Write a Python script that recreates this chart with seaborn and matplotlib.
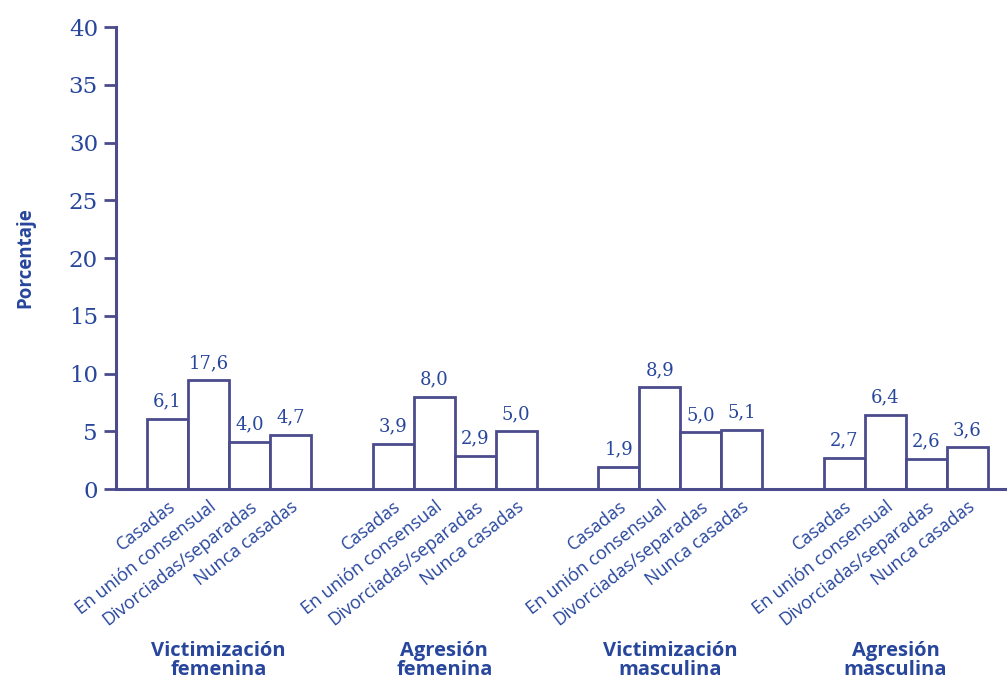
import matplotlib
matplotlib.use("Agg")
import matplotlib.pyplot as plt
import matplotlib.transforms as mtransforms
import numpy as np
import pandas as pd
import seaborn as sns

# ---- data ----
groups = ["Victimización\nfemenina", "Agresión\nfemenina",
          "Victimización\nmasculina", "Agresión\nmasculina"]
categories = ["Casadas", "En unión consensual", "Divorciadas/separadas", "Nunca casadas"]
# bar heights as drawn in the reference (the 17,6 bar is drawn at ~9.4)
vict_fem = [6.1, 9.4, 4.1, 4.7]
agr_fem = [3.9, 8.0, 2.9, 5.0]
vict_masc = [1.9, 8.8, 4.9, 5.1]
agr_masc = [2.7, 6.4, 2.6, 3.6]
value_labels = [["6,1", "17,6", "4,0", "4,7"],
                ["3,9", "8,0", "2,9", "5,0"],
                ["1,9", "8,9", "5,0", "5,1"],
                ["2,7", "6,4", "2,6", "3,6"]]
y_ticks = [0, 5, 10, 15, 20, 25, 30, 35, 40]
y_label = "Porcentaje"

series = [vict_fem, agr_fem, vict_masc, agr_masc]

TEXT = "#27469c"
LINE = "#4b4b8d"
GROUP_STEP = 5.5

rows = []
for g, vals in enumerate(series):
    for i, v in enumerate(vals):
        rows.append({"pos": g * GROUP_STEP + i, "value": v, "cat": categories[i],
                     "group": g, "label": value_labels[g][i]})
df = pd.DataFrame(rows)

sns.set_style("white")
plt.rcParams["font.family"] = ["DejaVu Sans"]

fig = plt.figure(figsize=(10.07, 6.79), dpi=100)
ax = fig.add_axes([0.1152, 0.2798, 0.8848, 0.6804])

sns.barplot(data=df, x="pos", y="value", native_scale=True, width=1.0,
            color="white", saturation=1, edgecolor=LINE, linewidth=2.0,
            ax=ax, errorbar=None)

ax.set_xlim(-1.256, 20.47)
ax.set_ylim(0, 40)

for s in ["top", "right"]:
    ax.spines[s].set_visible(False)
for s in ["left", "bottom"]:
    ax.spines[s].set_color(LINE)
    ax.spines[s].set_linewidth(2.2)

ax.set_yticks(y_ticks)
ax.set_yticklabels([str(t) for t in y_ticks], family="DejaVu Serif",
                   fontsize=16.5, color=TEXT)
ax.tick_params(axis="y", left=True, direction="out", length=9, width=2.0,
               color=LINE, pad=4)

ax.set_xticks(df["pos"])
ax.set_xticklabels(df["cat"], rotation=38, ha="right", rotation_mode="anchor",
                   fontsize=13, color=TEXT, family="Open Sans")
ax.tick_params(axis="x", bottom=False, length=0, pad=6)

ax.set_xlabel("")
ax.set_ylabel(y_label, fontsize=13.5, fontweight="bold", color=TEXT,
              family="Open Sans", labelpad=24)

# value labels
for _, r in df.iterrows():
    ax.annotate(r["label"], (r["pos"], r["value"]), xytext=(0, 6),
                textcoords="offset points", ha="center", va="bottom",
                fontsize=13, color=TEXT, family="DejaVu Serif")

# group titles
trans = mtransforms.blended_transform_factory(ax.transData, ax.transAxes)
for g, name in enumerate(groups):
    cx = g * GROUP_STEP + 1.5 - 0.25
    ax.text(cx, -0.372, name, transform=trans, ha="center", va="center",
            fontsize=14.5, fontweight="bold", color=TEXT, family="Open Sans",
            linespacing=0.92)

fig.savefig("out.png", dpi=100, facecolor="white")
